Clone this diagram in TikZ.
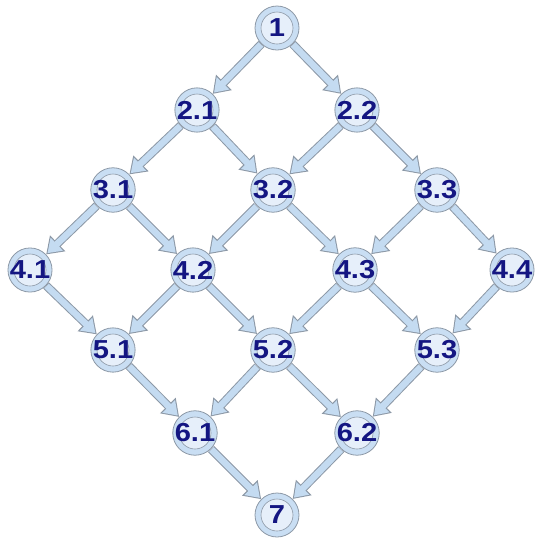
\documentclass[tikz,border=0pt]{standalone}
\usepackage{fontspec}
\setmainfont{Liberation Sans}
\usetikzlibrary{arrows.meta}

\definecolor{ringgray}{HTML}{8C98A6}
\definecolor{discblue}{HTML}{C9DEF3}
\definecolor{coreblue}{HTML}{E6EFFA}
\definecolor{flowblue}{HTML}{C4DBF1}
\definecolor{labelnavy}{HTML}{141682}

\tikzset{
  task/.style={circle, draw=ringgray, fill=discblue, line width=0.8pt,
    minimum size=44pt, inner sep=0pt,
    font=\fontsize{26}{26}\selectfont\bfseries, text=labelnavy,
    path picture={\draw[ringgray, fill=coreblue, line width=0.6pt]
      (path picture bounding box.center) circle (16pt);}},
  flow/.style={draw=flowblue, line width=6.5pt,
    -{Triangle[length=13pt,width=17pt]}, shorten >=1.8pt, shorten <=0.6pt,
    preaction={draw=ringgray, line width=8.5pt,
      -{Triangle[length=16pt,width=21pt]}, shorten >=0pt, shorten <=0pt}}
}

\begin{document}
\begin{tikzpicture}[x=1pt, y=-1pt]
\useasboundingbox (0,0) rectangle (535,539);

% levels 1 to 7
\node (t1) [task] at (277,28) {\scalebox{1.12}[1]{1}};
\node (t21) [task] at (197,110) {\scalebox{1.12}[1]{2.1}};
\node (t22) [task] at (357,110) {\scalebox{1.12}[1]{2.2}};
\node (t31) [task] at (113,190) {\scalebox{1.12}[1]{3.1}};
\node (t32) [task] at (273,190) {\scalebox{1.12}[1]{3.2}};
\node (t33) [task] at (437,190) {\scalebox{1.12}[1]{3.3}};
\node (t41) [task] at (30,270) {\scalebox{1.12}[1]{4.1}};
\node (t42) [task] at (193,270) {\scalebox{1.12}[1]{4.2}};
\node (t43) [task] at (355,270) {\scalebox{1.12}[1]{4.3}};
\node (t44) [task] at (512,270) {\scalebox{1.12}[1]{4.4}};
\node (t51) [task] at (113,350) {\scalebox{1.12}[1]{5.1}};
\node (t52) [task] at (273,350) {\scalebox{1.12}[1]{5.2}};
\node (t53) [task] at (437,350) {\scalebox{1.12}[1]{5.3}};
\node (t61) [task] at (195,433) {\scalebox{1.12}[1]{6.1}};
\node (t62) [task] at (357,433) {\scalebox{1.12}[1]{6.2}};
\node (t7) [task] at (277,515) {\scalebox{1.12}[1]{7}};

\draw[flow] (t1) -- (t21);
\draw[flow] (t1) -- (t22);
\draw[flow] (t21) -- (t31);
\draw[flow] (t21) -- (t32);
\draw[flow] (t22) -- (t32);
\draw[flow] (t22) -- (t33);
\draw[flow] (t31) -- (t41);
\draw[flow] (t31) -- (t42);
\draw[flow] (t32) -- (t42);
\draw[flow] (t32) -- (t43);
\draw[flow] (t33) -- (t43);
\draw[flow] (t33) -- (t44);
\draw[flow] (t41) -- (t51);
\draw[flow] (t42) -- (t51);
\draw[flow] (t42) -- (t52);
\draw[flow] (t43) -- (t52);
\draw[flow] (t43) -- (t53);
\draw[flow] (t44) -- (t53);
\draw[flow] (t51) -- (t61);
\draw[flow] (t52) -- (t61);
\draw[flow] (t52) -- (t62);
\draw[flow] (t53) -- (t62);
\draw[flow] (t61) -- (t7);
\draw[flow] (t62) -- (t7);

\end{tikzpicture}
\end{document}
